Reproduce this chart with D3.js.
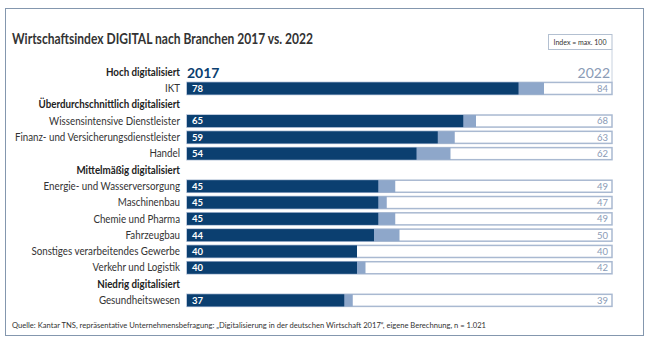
<!DOCTYPE html>
<html>
<head>
<meta charset="utf-8">
<script src="https://cdn.jsdelivr.net/npm/d3@7"></script>
<style>
  body { margin: 0; background: #fff; }
  svg { display: block; font-family: Lato, "Open Sans", sans-serif; }
</style>
</head>
<body>
<div id="chart"></div>
<script>
// Gruppen und Branchen
var gruppen = ["Hoch digitalisiert", "Überdurchschnittlich digitalisiert", "Mittelmäßig digitalisiert", "Niedrig digitalisiert"];
var branchen = ["IKT", "Wissensintensive Dienstleister", "Finanz- und Versicherungsdienstleister", "Handel",
  "Energie- und Wasserversorgung", "Maschinenbau", "Chemie und Pharma", "Fahrzeugbau",
  "Sonstiges verarbeitendes Gewerbe", "Verkehr und Logistik", "Gesundheitswesen"];
var gruppeVon = [0, 1, 1, 1, 2, 2, 2, 2, 2, 2, 3];
var werte2017 = [78, 65, 59, 54, 45, 45, 45, 44, 40, 40, 37];
var werte2022 = [84, 68, 63, 62, 49, 47, 49, 50, 40, 42, 39];
var jahre = ["2017", "2022"];

var W = 650, H = 344;
var dunkel = "#0b3f70", hell = "#8ea7ca", rahmen = "#a9b9d1", grau = "#8a9bb6";

// schmalere Schrift nachbilden
function schmal(sel, f) {
  sel.each(function() {
    var l = this.getComputedTextLength();
    d3.select(this).attr("textLength", l * f).attr("lengthAdjust", "spacingAndGlyphs");
  });
}

// Zeilen aufbauen: Kopfzeile je Gruppe, dann die Branchen
var zeilen = [];
gruppen.forEach(function(g, gi) {
  zeilen.push({ typ: "kopf", name: g, gi: gi });
  branchen.forEach(function(b, i) {
    if (gruppeVon[i] === gi) zeilen.push({ typ: "wert", name: b, v17: werte2017[i], v22: werte2022[i] });
  });
});
zeilen.forEach(function(z, i) { z.idx = i; });

var svg = d3.select("#chart").append("svg").attr("width", W).attr("height", H);

svg.append("rect").attr("x", 5.5).attr("y", 8.5).attr("width", 638).attr("height", 327)
  .attr("fill", "#fff").attr("stroke", "#8497ae").attr("stroke-width", 1);

var x = d3.scaleLinear().domain([0, 100]).range([187, 612]);
var y = d3.scaleBand().domain(d3.range(zeilen.length)).range([64, 308.5]).paddingInner(0.26).paddingOuter(0.13);
var bh = y.bandwidth();

svg.append("text").attr("x", 12).attr("y", 44)
  .attr("font-size", 15).attr("font-weight", 700).attr("fill", "#333")
  .attr("textLength", 301).attr("lengthAdjust", "spacingAndGlyphs")
  .text("Wirtschaftsindex DIGITAL nach Branchen 2017 vs. 2022");

// Index-Kasten
svg.append("rect").attr("x", 548.5).attr("y", 34.5).attr("width", 63.5).attr("height", 15)
  .attr("fill", "#fff").attr("stroke", "#b3c0d1");
svg.append("line").attr("x1", 612).attr("x2", 612).attr("y1", 49.5).attr("y2", y(1))
  .attr("stroke", "#c8d2df");
svg.append("text").attr("x", 580).attr("y", 45).attr("text-anchor", "middle")
  .attr("font-size", 7.8).attr("fill", "#333").text("Index = max. 100")
  .call(schmal, 0.9);

// Jahresbeschriftung
svg.append("text").attr("x", x(0)).attr("y", y(0) + bh - 0.5)
  .attr("font-size", 14).attr("font-weight", 700).attr("fill", dunkel).text(jahre[0]);
svg.append("text").attr("x", x(100) - 2).attr("y", y(0) + bh - 0.5).attr("text-anchor", "end")
  .attr("font-size", 14).attr("fill", grau).text(jahre[1]);

var reihe = svg.selectAll("g.zeile").data(zeilen).enter().append("g").attr("class", "zeile")
  .attr("transform", function(d) { return "translate(0," + y(d.idx) + ")"; });

reihe.append("text")
  .attr("x", 180).attr("y", bh / 2).attr("dy", "0.35em").attr("text-anchor", "end")
  .attr("font-size", 10.5)
  .attr("font-weight", function(d) { return d.typ === "kopf" ? 700 : 400; })
  .attr("fill", function(d) { return d.typ === "kopf" ? "#222" : "#333"; })
  .text(function(d) { return d.name; })
  .call(schmal, 0.93);

var balken = reihe.filter(function(d) { return d.typ === "wert"; });

balken.append("rect").attr("x", x(0)).attr("y", 0)
  .attr("width", x(100) - x(0)).attr("height", bh)
  .attr("fill", "#fff").attr("stroke", rahmen).attr("stroke-width", 1.5);
balken.append("rect").attr("x", x(0)).attr("y", 0)
  .attr("width", function(d) { return x(d.v22) - x(0); }).attr("height", bh)
  .attr("fill", hell);
balken.append("rect").attr("x", x(0)).attr("y", 0)
  .attr("width", function(d) { return x(d.v17) - x(0); }).attr("height", bh)
  .attr("fill", dunkel);

balken.append("text").attr("x", x(0) + 5).attr("y", bh / 2).attr("dy", "0.36em")
  .attr("font-size", 9.5).attr("font-weight", 700).attr("fill", "#fff")
  .text(function(d) { return d.v17; });
balken.append("text").attr("x", x(100) - 4).attr("y", bh / 2).attr("dy", "0.36em")
  .attr("text-anchor", "end").attr("font-size", 9.5).attr("fill", grau)
  .text(function(d) { return d.v22; });

svg.append("text").attr("x", 12).attr("y", 328).attr("font-size", 8.3).attr("fill", "#333")
  .attr("textLength", 474).attr("lengthAdjust", "spacingAndGlyphs")
  .text("Quelle: Kantar TNS, repräsentative  Unternehmensbefragung: \u201EDigitalisierung in der deutschen Wirtschaft 2017\u201C, eigene Berechnung, n = 1.021");
</script>
</body>
</html>
